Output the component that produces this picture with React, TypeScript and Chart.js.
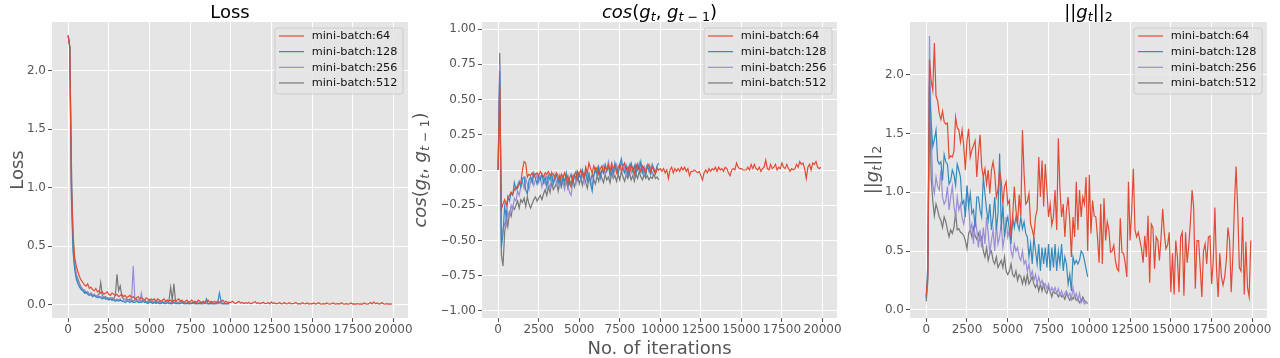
import { useEffect, useRef } from "react";
import { Chart, registerables } from "chart.js";

Chart.register(...registerables);

// ---------- data (one value every STEP iterations) ----------
const STEP = 100;
const SERIES_NAMES = ["mini-batch:64", "mini-batch:128", "mini-batch:256", "mini-batch:512"];
const SERIES_COLORS = ["#E24A33", "#348ABD", "#988ED5", "#777777"];
const X_TICKS = [0, 2500, 5000, 7500, 10000, 12500, 15000, 17500, 20000];
const Y_TICKS_LOSS = [0, 0.5, 1.0, 1.5, 2.0];
const Y_TICKS_COS = [-1.0, -0.75, -0.5, -0.25, 0, 0.25, 0.5, 0.75, 1.0];
const Y_TICKS_NORM = [0, 0.5, 1.0, 1.5, 2.0];

const LOSS_64 = [
  2.30, 2.20, 1.00, 0.60, 0.40, 0.33, 0.28, 0.24, 0.21, 0.19,
  0.17, 0.16, 0.18, 0.14, 0.15, 0.13, 0.12, 0.14, 0.11, 0.12,
  0.10, 0.11, 0.09, 0.10, 0.11, 0.09, 0.08, 0.10, 0.09, 0.08,
  0.09, 0.07, 0.08, 0.09, 0.07, 0.08, 0.06, 0.07, 0.08, 0.06,
  0.07, 0.05, 0.06, 0.07, 0.05, 0.06, 0.05, 0.04, 0.06, 0.05,
  0.04, 0.05, 0.04, 0.05, 0.03, 0.05, 0.04, 0.03, 0.04, 0.05,
  0.03, 0.04, 0.03, 0.04, 0.02, 0.04, 0.03, 0.04, 0.05, 0.03,
  0.04, 0.02, 0.03, 0.04, 0.02, 0.03, 0.04, 0.02, 0.03, 0.02,
  0.04, 0.03, 0.02, 0.03, 0.02, 0.03, 0.04, 0.02, 0.03, 0.02,
  0.03, 0.02, 0.03, 0.02, 0.03, 0.04, 0.02, 0.03, 0.02, 0.02,
  0.020, 0.030, 0.018, 0.010, 0.022, 0.028, 0.015, 0.020, 0.010, 0.018,
  0.012, 0.020, 0.010, 0.012, 0.022, 0.026, 0.010, 0.018, 0.008, 0.016,
  0.020, 0.010, 0.012, 0.018, 0.008, 0.025, 0.010, 0.016, 0.008, 0.012,
  0.018, 0.008, 0.010, 0.020, 0.008, 0.010, 0.018, 0.008, 0.010, 0.012,
  0.020, 0.008, 0.010, 0.006, 0.018, 0.010, 0.008, 0.016, 0.006, 0.010,
  0.008, 0.016, 0.006, 0.010, 0.018, 0.008, 0.006, 0.010, 0.006, 0.016,
  0.008, 0.006, 0.010, 0.016, 0.006, 0.008, 0.010, 0.006, 0.018, 0.008,
  0.006, 0.010, 0.006, 0.008, 0.016, 0.006, 0.008, 0.006, 0.010, 0.006,
  0.008, 0.006, 0.016, 0.008, 0.006, 0.010, 0.020, 0.008, 0.024, 0.008,
  0.016, 0.006, 0.010, 0.018, 0.008, 0.006, 0.010, 0.006, 0.008, 0.006,
];
const LOSS_128 = [
  2.30, 2.20, 0.90, 0.45, 0.30, 0.22, 0.18, 0.15, 0.13, 0.12,
  0.10, 0.11, 0.09, 0.08, 0.09, 0.07, 0.08, 0.07, 0.06, 0.07,
  0.06, 0.05, 0.06, 0.05, 0.05, 0.04, 0.05, 0.04, 0.04, 0.03,
  0.04, 0.03, 0.04, 0.03, 0.03, 0.02, 0.03, 0.03, 0.02, 0.03,
  0.02, 0.02, 0.03, 0.02, 0.02, 0.02, 0.03, 0.02, 0.02, 0.01,
  0.02, 0.02, 0.01, 0.02, 0.01, 0.02, 0.01, 0.01, 0.02, 0.01,
  0.01, 0.02, 0.01, 0.01, 0.01, 0.02, 0.01, 0.01, 0.01, 0.01,
  0.02, 0.01, 0.01, 0.01, 0.01, 0.01, 0.01, 0.02, 0.01, 0.01,
  0.01, 0.01, 0.01, 0.02, 0.01, 0.05, 0.01, 0.01, 0.01, 0.01,
  0.01, 0.01, 0.02, 0.10, 0.03, 0.01, 0.01, 0.01, 0.01, 0.01,
];
const LOSS_256 = [
  2.30, 2.20, 0.95, 0.50, 0.32, 0.25, 0.20, 0.17, 0.14, 0.12,
  0.13, 0.10, 0.11, 0.09, 0.10, 0.08, 0.09, 0.07, 0.08, 0.06,
  0.07, 0.06, 0.07, 0.05, 0.06, 0.05, 0.06, 0.04, 0.05, 0.04,
  0.05, 0.04, 0.05, 0.03, 0.04, 0.05, 0.03, 0.04, 0.03, 0.05,
  0.33, 0.05, 0.03, 0.04, 0.03, 0.10, 0.03, 0.04, 0.03, 0.02,
  0.03, 0.04, 0.02, 0.03, 0.02, 0.03, 0.02, 0.02, 0.03, 0.02,
  0.02, 0.03, 0.02, 0.02, 0.01, 0.02, 0.02, 0.01, 0.02, 0.01,
  0.02, 0.01, 0.01, 0.02, 0.01, 0.01, 0.02, 0.01, 0.01, 0.01,
  0.02, 0.01, 0.01, 0.01, 0.01, 0.02, 0.01, 0.01, 0.01, 0.01,
  0.01, 0.02, 0.01, 0.01, 0.01, 0.01, 0.01, 0.01, 0.01, 0.01,
];
const LOSS_512 = [
  2.30, 2.20, 1.20, 0.55, 0.35, 0.26, 0.22, 0.18, 0.15, 0.13,
  0.12, 0.10, 0.11, 0.09, 0.10, 0.08, 0.09, 0.07, 0.08, 0.09,
  0.19, 0.08, 0.06, 0.07, 0.05, 0.06, 0.05, 0.06, 0.05, 0.08,
  0.26, 0.12, 0.16, 0.07, 0.05, 0.04, 0.05, 0.04, 0.05, 0.04,
  0.03, 0.04, 0.05, 0.03, 0.04, 0.03, 0.04, 0.03, 0.02, 0.03,
  0.04, 0.02, 0.03, 0.02, 0.03, 0.02, 0.03, 0.02, 0.03, 0.02,
  0.03, 0.02, 0.04, 0.15, 0.04, 0.18, 0.03, 0.02, 0.02, 0.03,
  0.02, 0.02, 0.01, 0.02, 0.02, 0.01, 0.02, 0.01, 0.02, 0.01,
  0.01, 0.02, 0.01, 0.01, 0.02, 0.01, 0.01, 0.01, 0.02, 0.01,
  0.01, 0.01, 0.01, 0.02, 0.01, 0.01, 0.01, 0.01, 0.01, 0.01,
];

const COS_64 = [
  0.00, 0.60, -0.28, -0.24, -0.21, -0.25, -0.20, -0.18, -0.16, -0.17,
  -0.14, -0.12, -0.13, -0.10, -0.09, 0.00, 0.06, 0.05, -0.05, -0.03,
  -0.04, -0.02, -0.05, -0.03, -0.02, -0.04, -0.01, -0.03, -0.05, -0.02,
  -0.03, -0.01, -0.04, -0.02, -0.03, -0.06, -0.02, -0.04, -0.08, -0.03,
  -0.05, -0.02, -0.07, -0.04, -0.10, -0.12, -0.05, -0.03, -0.06, -0.01,
  -0.04, 0.00, -0.03, -0.06, 0.02, -0.02, 0.05, 0.01, -0.02, 0.03,
  -0.01, 0.02, -0.03, 0.01, 0.03, -0.02, 0.02, 0.00, 0.04, -0.01,
  0.05, 0.01, 0.03, -0.02, 0.02, 0.04, -0.01, 0.03, 0.05, 0.00,
  0.02, -0.02, 0.03, 0.01, -0.03, 0.04, 0.00, 0.02, -0.01, 0.03,
  0.01, -0.02, 0.02, 0.04, -0.01, 0.02, 0.00, -0.03, 0.01, 0.00,
  0.01, -0.01, 0.01, -0.02, 0.00, -0.06, 0.00, 0.02, -0.02, 0.01,
  -0.01, 0.01, -0.01, 0.02, 0.00, 0.02, -0.01, 0.01, -0.04, -0.01,
  -0.01, 0.00, -0.01, -0.02, -0.01, -0.04, -0.07, -0.02, 0.00, -0.02,
  0.01, -0.01, 0.01, 0.00, 0.02, -0.01, 0.02, 0.00, 0.01, -0.01,
  0.02, 0.01, -0.02, -0.04, 0.00, 0.01, 0.00, 0.05, 0.02, 0.01,
  0.01, 0.00, 0.00, 0.00, 0.02, 0.00, 0.04, 0.01, 0.04, 0.01,
  0.00, 0.02, -0.01, 0.01, 0.02, 0.07, 0.01, 0.00, 0.04, 0.01,
  0.02, 0.04, 0.00, 0.02, 0.01, 0.05, 0.02, 0.01, 0.04, 0.01,
  -0.01, 0.01, 0.00, 0.01, 0.04, 0.02, 0.06, 0.04, 0.05, 0.01,
  -0.06, 0.02, 0.04, 0.00, 0.05, 0.04, 0.06, 0.02, 0.01, 0.02,
];
const COS_128 = [
  0.00, 0.70, -0.55, -0.45, -0.26, -0.33, -0.19, -0.22, -0.16, -0.18,
  -0.09, -0.14, -0.11, -0.08, -0.12, -0.06, -0.05, -0.14, -0.17, -0.07,
  -0.05, -0.09, -0.02, -0.06, -0.10, -0.04, -0.07, -0.03, -0.09, -0.05,
  -0.12, -0.04, -0.07, -0.02, -0.10, -0.06, -0.03, -0.09, -0.04, -0.11,
  -0.05, -0.08, -0.02, -0.10, -0.06, -0.03, -0.09, -0.04, -0.01, -0.07,
  -0.03, -0.06, 0.00, -0.05, -0.02, -0.08, -0.03, -0.10, -0.15, -0.04,
  0.01, -0.03, 0.02, -0.05, 0.00, -0.02, 0.04, -0.01, 0.03, -0.04,
  0.02, -0.02, 0.05, 0.00, -0.03, 0.04, 0.08, 0.01, -0.02, 0.03,
  -0.04, 0.02, 0.05, -0.01, 0.03, -0.03, 0.04, 0.00, 0.06, -0.02,
  0.02, -0.04, 0.03, 0.00, -0.03, 0.04, 0.01, -0.02, 0.03, 0.05,
];
const COS_256 = [
  0.00, 0.75, -0.50, -0.42, -0.38, -0.40, -0.30, -0.33, -0.25, -0.28,
  -0.20, -0.22, -0.15, -0.18, -0.12, -0.08, -0.13, -0.06, -0.10, -0.14,
  -0.08, -0.05, -0.11, -0.07, -0.03, -0.09, -0.05, -0.12, -0.07, -0.10,
  -0.04, -0.08, -0.13, -0.06, -0.09, -0.03, -0.10, -0.07, -0.12, -0.05,
  -0.09, -0.14, -0.06, -0.11, -0.16, -0.18, -0.08, -0.04, -0.10, -0.05,
  -0.02, -0.07, -0.03, -0.09, 0.01, -0.05, -0.02, -0.08, -0.12, -0.03,
  0.00, -0.04, 0.02, -0.06, -0.01, 0.03, -0.03, 0.01, 0.06, -0.02,
  0.02, -0.05, 0.01, 0.04, -0.02, 0.02, 0.05, -0.01, 0.03, -0.04,
  0.01, 0.04, -0.02, 0.02, -0.05, 0.03, 0.00, 0.05, -0.02, 0.02,
  -0.03, 0.01, 0.04, -0.01, 0.02, -0.03, 0.01, -0.02, 0.02, -0.01,
];
const COS_512 = [
  0.00, 0.83, -0.60, -0.68, -0.45, -0.33, -0.40, -0.30, -0.33, -0.26,
  -0.28, -0.25, -0.22, -0.27, -0.21, -0.23, -0.20, -0.26, -0.19, -0.24,
  -0.27, -0.24, -0.21, -0.19, -0.22, -0.20, -0.18, -0.21, -0.17, -0.14,
  -0.18, -0.12, -0.16, -0.09, -0.14, -0.12, -0.09, -0.15, -0.08, -0.12,
  -0.06, -0.11, -0.08, -0.13, -0.07, -0.10, -0.05, -0.12, -0.08, -0.03,
  -0.10, -0.06, -0.11, -0.04, -0.09, -0.13, -0.06, -0.08, -0.03, -0.07,
  -0.10, -0.04, -0.08, -0.02, -0.06, -0.09, -0.03, -0.07, -0.05, -0.09,
  -0.02, -0.06, -0.04, -0.08, -0.03, -0.07, -0.01, -0.05, -0.08, -0.03,
  -0.06, -0.02, -0.07, -0.04, -0.08, -0.03, -0.06, -0.01, -0.05, -0.07,
  -0.03, -0.06, -0.04, -0.07, -0.05, -0.06, -0.03, -0.06, -0.05, -0.07,
];

const NORM_64 = [
  0.12, 0.30, 2.13, 1.95, 1.87, 2.27, 1.82, 1.78, 1.67, 1.62,
  1.69, 1.60, 1.58, 1.59, 1.29, 1.31, 1.30, 1.35, 1.64, 1.55,
  1.53, 1.43, 1.53, 1.39, 1.19, 1.44, 1.54, 1.30, 1.36, 1.40,
  1.44, 1.13, 1.33, 1.49, 1.22, 1.13, 1.20, 1.07, 1.19, 0.99,
  1.19, 1.26, 1.16, 0.96, 1.02, 1.19, 1.09, 0.90, 1.05, 1.09,
  0.90, 0.93, 0.62, 0.79, 1.05, 0.85, 0.73, 0.98, 0.80, 1.53,
  1.16, 0.90, 0.92, 0.99, 0.73, 0.68, 0.62, 0.79, 0.85, 1.30,
  0.96, 1.27, 0.88, 1.24, 1.02, 0.79, 0.90, 0.72, 0.79, 1.02,
  0.68, 1.46, 1.02, 0.79, 0.90, 0.62, 0.85, 0.96, 0.76, 0.45,
  0.79, 0.62, 1.09, 0.68, 1.02, 0.79, 0.96, 0.90, 1.13, 0.50,
  1.15, 0.65, 0.93, 0.80, 0.79, 0.62, 0.40, 0.90, 0.39, 0.95,
  0.59, 0.75, 0.68, 0.49, 0.50, 0.55, 0.42, 0.35, 0.33, 0.78,
  0.49, 0.48, 0.40, 0.28, 1.09, 0.59, 0.85, 1.20, 0.68, 0.62,
  0.66, 0.59, 0.52, 0.40, 0.63, 0.45, 0.80, 0.23, 0.73, 0.70,
  0.35, 0.62, 0.59, 0.42, 0.62, 0.86, 0.65, 0.52, 0.55, 0.66,
  0.15, 0.48, 0.13, 0.59, 0.45, 0.15, 0.62, 0.66, 0.12, 0.66,
  0.40, 0.55, 0.75, 1.02, 0.87, 0.18, 0.59, 0.59, 0.36, 0.11,
  0.50, 0.56, 0.39, 0.62, 0.63, 0.22, 0.42, 0.87, 0.35, 0.11,
  0.48, 0.28, 0.21, 0.28, 0.42, 0.70, 0.59, 0.15, 0.45, 0.90,
  1.22, 0.85, 0.36, 0.33, 0.79, 0.13, 0.58, 0.19, 0.11, 0.59,
];
const NORM_128 = [
  0.10, 0.40, 1.90, 1.60, 1.39, 1.45, 1.53, 1.27, 1.24, 1.26,
  1.10, 1.32, 1.26, 1.24, 1.07, 1.10, 1.19, 1.15, 1.06, 1.24,
  1.19, 1.13, 0.90, 0.93, 0.79, 1.06, 0.88, 0.99, 0.82, 0.85,
  0.70, 0.96, 0.96, 0.85, 0.79, 1.13, 0.99, 0.85, 0.76, 0.90,
  0.68, 0.79, 0.96, 0.68, 0.82, 1.33, 0.68, 0.90, 0.62, 0.73,
  0.79, 0.68, 0.56, 0.79, 0.70, 0.79, 0.73, 0.68, 0.79, 0.69,
  0.75, 0.65, 0.62, 0.45, 0.56, 0.39, 0.62, 0.50, 0.39, 0.56,
  0.33, 0.53, 0.39, 0.53, 0.36, 0.56, 0.33, 0.53, 0.36, 0.56,
  0.33, 0.50, 0.39, 0.56, 0.33, 0.45, 0.39, 0.22, 0.30, 0.16,
  0.45, 0.39, 0.42, 0.39, 0.42, 0.50, 0.48, 0.42, 0.35, 0.28,
];
const NORM_256 = [
  0.10, 0.30, 2.33, 1.53, 1.07, 0.99, 1.13, 1.05, 1.02, 1.19,
  0.96, 0.90, 0.93, 1.05, 0.85, 0.96, 1.05, 0.88, 0.79, 0.96,
  0.85, 0.90, 0.78, 0.73, 0.82, 1.05, 0.90, 0.68, 0.73, 0.56,
  0.79, 0.68, 0.53, 0.68, 0.53, 0.70, 0.56, 0.79, 0.65, 0.48,
  0.59, 0.68, 0.50, 0.73, 0.56, 0.62, 0.73, 0.53, 0.62, 0.79,
  0.62, 0.68, 0.50, 0.45, 0.56, 0.50, 0.53, 0.45, 0.42, 0.50,
  0.39, 0.42, 0.33, 0.39, 0.28, 0.33, 0.25, 0.30, 0.22, 0.28,
  0.22, 0.25, 0.19, 0.22, 0.18, 0.22, 0.15, 0.19, 0.16, 0.19,
  0.14, 0.18, 0.12, 0.16, 0.11, 0.14, 0.16, 0.11, 0.14, 0.09,
  0.19, 0.11, 0.14, 0.08, 0.14, 0.06, 0.09, 0.05, 0.07, 0.05,
];
const NORM_512 = [
  0.07, 0.25, 1.95, 1.13, 0.93, 0.80, 0.90, 0.85, 0.79, 0.76,
  0.70, 0.79, 0.75, 0.68, 0.62, 0.68, 0.65, 0.70, 0.83, 0.68,
  0.69, 0.66, 0.65, 0.63, 0.59, 0.52, 0.65, 0.68, 0.62, 0.70,
  0.63, 0.60, 0.65, 0.59, 0.62, 0.50, 0.45, 0.53, 0.42, 0.48,
  0.50, 0.42, 0.39, 0.45, 0.36, 0.39, 0.42, 0.36, 0.45, 0.33,
  0.30, 0.33, 0.39, 0.30, 0.28, 0.33, 0.25, 0.30, 0.28, 0.22,
  0.28, 0.22, 0.30, 0.22, 0.25, 0.28, 0.22, 0.19, 0.22, 0.16,
  0.22, 0.16, 0.22, 0.16, 0.14, 0.19, 0.16, 0.11, 0.16, 0.14,
  0.14, 0.11, 0.14, 0.11, 0.12, 0.09, 0.14, 0.11, 0.08, 0.11,
  0.09, 0.12, 0.08, 0.09, 0.06, 0.08, 0.11, 0.08, 0.06, 0.06,
];

// ---------- styling / layout ----------
const FONT = '"DejaVu Sans", "Liberation Sans", sans-serif';
const AXES_BG = "#E5E5E5";
const TICK_COLOR = "#555555";
const CANVAS_W = 1280;
const CANVAS_H = 358;
const PLOT_TOP = 22;
const PLOT_BOTTOM = 318;
const Y_AXIS_W = 40;
const X_AXIS_H = 30;
const X_MIN = -995;
const X_MAX = 20895;

type Part = { t: string; it?: boolean; sub?: boolean };

const COS_TEX: Part[] = [
  { t: "cos", it: true },
  { t: "(" },
  { t: "g", it: true },
  { t: "t", it: true, sub: true },
  { t: ", " },
  { t: "g", it: true },
  { t: "t", it: true, sub: true },
  { t: " \u2212 ", sub: true },
  { t: "1", sub: true },
  { t: ")" },
];
const NORM_TEX: Part[] = [
  { t: "||" },
  { t: "g", it: true },
  { t: "t", it: true, sub: true },
  { t: "||" },
  { t: "2", sub: true },
];

type Panel = {
  series: number[][];
  left: number;
  right: number;
  yMin: number;
  yMax: number;
  yTicks: number[];
  yDec: number;
  title: Part[];
  ylabel: Part[];
  ylabelX: number;
  xlabel?: string;
};

const PANELS: Panel[] = [
  {
    series: [LOSS_64, LOSS_128, LOSS_256, LOSS_512],
    left: 52, right: 408, yMin: -0.113, yMax: 2.415, yTicks: Y_TICKS_LOSS, yDec: 1,
    title: [{ t: "Loss" }], ylabel: [{ t: "Loss" }], ylabelX: 23,
  },
  {
    series: [COS_64, COS_128, COS_256, COS_512],
    left: 482, right: 837, yMin: -1.05, yMax: 1.05, yTicks: Y_TICKS_COS, yDec: 2,
    title: COS_TEX, ylabel: COS_TEX, ylabelX: 425.5, xlabel: "No. of iterations",
  },
  {
    series: [NORM_64, NORM_128, NORM_256, NORM_512],
    left: 910, right: 1267, yMin: -0.07, yMax: 2.45, yTicks: Y_TICKS_NORM, yDec: 1,
    title: NORM_TEX, ylabel: NORM_TEX, ylabelX: 877.5,
  },
];

function partFont(p: Part, size: number) {
  const s = p.sub ? size * 0.7 : size;
  return `${p.it ? "italic " : ""}${s}px ${FONT}`;
}
function measureParts(ctx: CanvasRenderingContext2D, parts: Part[], size: number) {
  let w = 0;
  for (const p of parts) {
    ctx.font = partFont(p, size);
    w += ctx.measureText(p.t).width;
  }
  return w;
}
function drawParts(ctx: CanvasRenderingContext2D, parts: Part[], x: number, y: number, size: number) {
  let cx = x;
  ctx.textAlign = "left";
  ctx.textBaseline = "alphabetic";
  for (const p of parts) {
    ctx.font = partFont(p, size);
    ctx.fillText(p.t, cx, y + (p.sub ? size * 0.22 : 0));
    cx += ctx.measureText(p.t).width;
  }
}

function makePlugin(panel: Panel) {
  return {
    id: "mplDecor",
    beforeDraw(chart: any) {
      const { ctx, chartArea } = chart;
      ctx.save();
      ctx.fillStyle = AXES_BG;
      ctx.fillRect(chartArea.left, chartArea.top, chartArea.right - chartArea.left, chartArea.bottom - chartArea.top);
      ctx.restore();
    },
    afterDraw(chart: any) {
      const { ctx, chartArea } = chart;
      ctx.save();
      // title
      const tSize = 18;
      const cx = (chartArea.left + chartArea.right) / 2;
      ctx.fillStyle = "#000000";
      const tw = measureParts(ctx, panel.title, tSize);
      drawParts(ctx, panel.title, cx - tw / 2, 17.5, tSize);
      // y label
      ctx.fillStyle = TICK_COLOR;
      const lw = measureParts(ctx, panel.ylabel, tSize);
      ctx.save();
      ctx.translate(panel.ylabelX, (chartArea.top + chartArea.bottom) / 2);
      ctx.rotate(-Math.PI / 2);
      drawParts(ctx, panel.ylabel, -lw / 2, 0, tSize);
      ctx.restore();
      // x label
      if (panel.xlabel) {
        ctx.font = `18px ${FONT}`;
        ctx.textAlign = "center";
        ctx.textBaseline = "alphabetic";
        ctx.fillStyle = TICK_COLOR;
        ctx.fillText(panel.xlabel, cx, 353.5);
      }
      // legend
      const boxR = chartArea.right - 5;
      const boxL = boxR - 128;
      const boxT = chartArea.top + 6;
      const boxB = chartArea.top + 72;
      ctx.beginPath();
      const r = 2.5;
      ctx.moveTo(boxL + r, boxT);
      ctx.arcTo(boxR, boxT, boxR, boxB, r);
      ctx.arcTo(boxR, boxB, boxL, boxB, r);
      ctx.arcTo(boxL, boxB, boxL, boxT, r);
      ctx.arcTo(boxL, boxT, boxR, boxT, r);
      ctx.closePath();
      ctx.fillStyle = "rgba(229,229,229,0.8)";
      ctx.fill();
      ctx.strokeStyle = "#CCCCCC";
      ctx.lineWidth = 1;
      ctx.stroke();
      ctx.font = `11.3px ${FONT}`;
      ctx.textAlign = "left";
      ctx.textBaseline = "middle";
      SERIES_NAMES.forEach((name, i) => {
        const y = chartArea.top + 14 + i * 15.65;
        ctx.strokeStyle = SERIES_COLORS[i];
        ctx.lineWidth = 1.2;
        ctx.beginPath();
        ctx.moveTo(boxL + 4, y);
        ctx.lineTo(boxL + 29, y);
        ctx.stroke();
        ctx.fillStyle = "#111111";
        ctx.fillText(name, boxL + 36.7, y + 0.5);
      });
      ctx.restore();
    },
  };
}

function fmtY(v: number, dec: number) {
  return v.toFixed(dec).replace("-", "\u2212");
}

function PanelChart({ panel }: { panel: Panel }) {
  const ref = useRef<HTMLCanvasElement | null>(null);
  useEffect(() => {
    if (!ref.current) return;
    const datasets = panel.series.map((vals, i) => ({
      label: SERIES_NAMES[i],
      data: vals.map((v, k) => ({ x: k * STEP, y: v })),
      borderColor: SERIES_COLORS[i],
      backgroundColor: SERIES_COLORS[i],
      borderWidth: 1.2,
      pointRadius: 0,
      tension: 0,
      fill: false,
    }));
    const chart = new Chart(ref.current, {
      type: "line",
      data: { datasets },
      plugins: [makePlugin(panel)],
      options: {
        animation: false,
        responsive: false,
        devicePixelRatio: 1,
        events: [],
        layout: {
          padding: {
            left: panel.left - Y_AXIS_W,
            right: CANVAS_W - panel.right,
            top: PLOT_TOP,
            bottom: CANVAS_H - PLOT_BOTTOM - X_AXIS_H,
          },
        },
        plugins: {
          legend: { display: false },
          tooltip: { enabled: false },
          title: { display: false },
        },
        scales: {
          x: {
            type: "linear",
            min: X_MIN,
            max: X_MAX,
            afterBuildTicks: (s: any) => {
              s.ticks = X_TICKS.map((v) => ({ value: v }));
            },
            afterFit: (s: any) => {
              s.height = X_AXIS_H;
            },
            ticks: {
              autoSkip: false,
              maxRotation: 0,
              minRotation: 0,
              color: TICK_COLOR,
              padding: 1,
              font: { family: FONT, size: 12 },
              callback: (v: any) => String(v),
            },
            grid: { color: "#FFFFFF", lineWidth: 1, tickColor: TICK_COLOR, tickLength: 4, drawTicks: true },
            border: { display: false },
          },
          y: {
            type: "linear",
            min: panel.yMin,
            max: panel.yMax,
            afterBuildTicks: (s: any) => {
              s.ticks = panel.yTicks.map((v) => ({ value: v }));
            },
            afterFit: (s: any) => {
              s.width = Y_AXIS_W;
            },
            ticks: {
              color: TICK_COLOR,
              padding: 2,
              font: { family: FONT, size: 12 },
              callback: (v: any) => fmtY(Number(v), panel.yDec),
            },
            grid: { color: "#FFFFFF", lineWidth: 1, tickColor: TICK_COLOR, tickLength: 4, drawTicks: true },
            border: { display: false },
          },
        },
      } as any,
    });
    return () => chart.destroy();
  }, [panel]);
  return (
    <canvas
      ref={ref}
      width={CANVAS_W}
      height={CANVAS_H}
      style={{ position: "absolute", left: 0, top: 0, width: CANVAS_W, height: CANVAS_H, display: "block" }}
    />
  );
}

export default function App() {
  return (
    <div style={{ position: "absolute", left: 0, top: 0, width: CANVAS_W, height: CANVAS_H, background: "#FFFFFF" }}>
      {PANELS.map((p, i) => (
        <PanelChart key={i} panel={p} />
      ))}
    </div>
  );
}
